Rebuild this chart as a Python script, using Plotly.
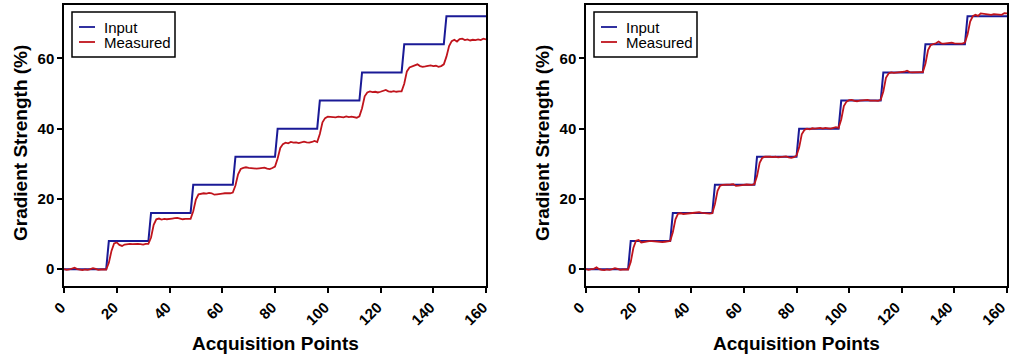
import plotly.graph_objects as go

# ---- data ----
input_x = [0, 16, 17, 32, 33, 48, 49, 64, 65, 80, 81, 96, 97, 112, 113, 128, 129, 144, 145, 160]
input_y = [0, 0, 8, 8, 16, 16, 24, 24, 32, 32, 40, 40, 48, 48, 56, 56, 64, 64, 72, 72]

meas_x = list(range(0, 161))

meas_left = [
    0.0, -0.2, -0.1, 0.1, 0.4, 0.0, -0.2, -0.3, -0.1, -0.2, 0.0, 0.3, 0.1, -0.2, -0.1, -0.2, -0.1,
    1.8, 5.2, 7.3, 7.6, 6.9, 6.6, 7.0, 7.2, 7.2, 7.1, 7.2, 7.2, 7.1, 7.0, 7.2, 7.2,
    9.0, 12.6, 14.2, 14.4, 14.1, 14.3, 14.2, 14.4, 14.4, 14.5, 14.6, 14.4, 14.2, 14.3, 14.2, 14.3,
    16.5, 19.8, 21.3, 21.5, 21.6, 21.5, 21.7, 21.6, 21.2, 21.3, 21.5, 21.5, 21.6, 21.5, 21.6, 21.8,
    23.8, 27.0, 28.5, 28.8, 29.0, 28.8, 28.7, 28.8, 28.6, 28.7, 28.8, 28.9, 28.6, 28.5, 28.8, 29.2,
    31.5, 34.5, 35.6, 36.0, 35.8, 36.2, 36.0, 36.1, 35.9, 36.0, 36.3, 36.1, 36.0, 36.2, 36.5, 36.2,
    38.5, 41.8, 43.0, 43.4, 43.3, 43.1, 43.2, 43.4, 43.3, 43.2, 43.5, 43.3, 43.4, 43.2, 43.1, 43.5,
    45.8, 49.2, 50.3, 50.6, 50.4, 50.5, 50.3, 50.5, 50.7, 51.0, 50.6, 50.5, 50.7, 50.5, 50.6, 50.6,
    52.8, 56.3, 57.4, 57.7, 57.9, 58.3, 57.8, 57.6, 57.7, 57.9, 58.0, 57.8, 57.9, 57.6, 57.8, 58.3,
    60.5, 63.5, 64.9, 65.3, 64.8, 65.5, 65.6, 65.2, 65.4, 65.1, 65.3, 65.2, 65.4, 65.2, 65.6, 65.4,
]

meas_right = [
    0.0, -0.2, 0.0, 0.1, 0.5, 0.0, -0.2, -0.3, -0.1, -0.2, 0.0, 0.3, 0.1, -0.2, -0.1, -0.2, -0.1,
    2.0, 6.0, 8.1, 8.3, 7.6, 7.8, 8.0, 8.0, 8.0, 7.9, 7.9, 7.8, 7.7, 7.8, 7.9, 8.0,
    10.5, 14.2, 15.8, 15.9, 15.7, 15.8, 15.8, 16.0, 15.9, 16.1, 16.2, 16.0, 15.9, 16.0, 15.8, 15.9,
    18.5, 22.3, 23.8, 24.0, 24.0, 23.9, 24.1, 24.2, 23.7, 23.8, 24.0, 24.0, 24.1, 24.0, 24.0, 24.2,
    26.5, 30.3, 31.7, 32.0, 32.1, 32.0, 31.9, 32.0, 31.8, 31.9, 32.0, 32.1, 31.8, 31.7, 31.9, 32.3,
    34.6, 38.4, 39.6, 40.0, 39.8, 40.1, 40.0, 40.1, 40.2, 40.0, 40.2, 40.1, 40.0, 40.2, 40.4, 40.2,
    42.6, 46.4, 47.7, 48.1, 48.2, 47.9, 47.8, 48.0, 48.1, 48.0, 48.2, 48.0, 48.1, 48.0, 47.9, 48.2,
    50.6, 54.5, 55.7, 56.0, 55.9, 56.0, 55.9, 56.1, 56.2, 56.5, 56.1, 56.0, 56.1, 56.0, 56.1, 56.1,
    58.5, 62.4, 63.8, 64.1, 64.3, 64.8, 64.3, 64.2, 64.3, 64.4, 64.5, 64.3, 64.2, 64.1, 64.2, 64.5,
    66.8, 70.5, 72.0, 72.4, 72.1, 72.8, 72.7, 72.5, 72.6, 72.4, 72.6, 72.5, 72.6, 72.4, 72.9, 72.8,
]

x_ticks = [0, 20, 40, 60, 80, 100, 120, 140, 160]
y_ticks = [0, 20, 40, 60]
series_names = ["Input", "Measured"]

BLUE = "#1a1a96"
RED = "#c0141c"
FONT = "Liberation Sans, Arial, sans-serif"

fig = go.Figure()

fig.add_trace(go.Scatter(x=input_x, y=input_y, mode="lines", name=series_names[0],
                         line=dict(color=BLUE, width=2), xaxis="x", yaxis="y"))
fig.add_trace(go.Scatter(x=meas_x, y=meas_left, mode="lines", name=series_names[1],
                         line=dict(color=RED, width=1.8), xaxis="x", yaxis="y"))
fig.add_trace(go.Scatter(x=input_x, y=input_y, mode="lines", name=series_names[0],
                         line=dict(color=BLUE, width=2), xaxis="x2", yaxis="y2"))
fig.add_trace(go.Scatter(x=meas_x, y=meas_right, mode="lines", name=series_names[1],
                         line=dict(color=RED, width=1.8), xaxis="x2", yaxis="y2"))

W, H = 1009, 358
left_dom = [64 / W, 486 / W]
right_dom = [586 / W, 1007 / W]
y_dom = [1 - 286 / H, 1 - 5 / H]

common_x = dict(range=[0, 160], tickvals=x_ticks, tickangle=-45, showline=True, mirror=True,
                linecolor="black", linewidth=1.5, ticks="outside", ticklen=5, tickwidth=1.5,
                tickcolor="black", showgrid=False, zeroline=False, automargin=False,
                ticklabeloverflow="allow",
                tickfont=dict(family=FONT, size=15, color="black", weight="bold"))
common_y = dict(range=[-4.8, 75.2], tickvals=y_ticks, showline=True, mirror=True,
                linecolor="black", linewidth=1.5, ticks="outside", ticklen=5, tickwidth=1.5,
                tickcolor="black", showgrid=False, zeroline=False, automargin=False,
                ticklabeloverflow="allow",
                tickfont=dict(family=FONT, size=15, color="black", weight="bold"))

fig.update_layout(
    width=W, height=H,
    margin=dict(l=0, r=0, t=0, b=0),
    paper_bgcolor="white", plot_bgcolor="white",
    showlegend=False,
    xaxis=dict(domain=left_dom, anchor="y", ticklabelshift=-3, **common_x),
    yaxis=dict(domain=y_dom, anchor="x", **common_y),
    xaxis2=dict(domain=right_dom, anchor="y2", ticklabelshift=-6, **common_x),
    yaxis2=dict(domain=y_dom, anchor="x2", **common_y),
    font=dict(family=FONT, color="black"),
)

def px(x):
    return x / W

def py(y):
    return 1 - y / H

# legend boxes (drawn manually for compact layout)
for off in [0, 522]:
    fig.add_shape(type="rect", xref="paper", yref="paper",
                  x0=px(72 + off), x1=px(175 + off), y0=py(57), y1=py(12),
                  line=dict(color="black", width=1.5), fillcolor="white", layer="above")
    for name, col, yy in [(series_names[0], BLUE, 27), (series_names[1], RED, 42)]:
        fig.add_shape(type="line", xref="paper", yref="paper",
                      x0=px(79 + off), x1=px(95 + off), y0=py(yy), y1=py(yy),
                      line=dict(color=col, width=1.8), layer="above")
        fig.add_annotation(text=name, x=px(102 + off), y=py(yy), xref="paper", yref="paper",
                           showarrow=False, xanchor="left", yanchor="middle",
                           font=dict(family=FONT, size=15, color="black"))

title_font = dict(family=FONT, size=19, color="black", weight="bold")
for cx in [(left_dom[0] + left_dom[1]) / 2, (right_dom[0] + right_dom[1]) / 2]:
    fig.add_annotation(text="Acquisition Points", x=cx, y=py(343), xref="paper", yref="paper",
                       showarrow=False, font=title_font, xanchor="center", yanchor="middle")
for ax_x in [20, 542]:
    fig.add_annotation(text="Gradient Strength (%)", x=px(ax_x), y=py(143), xref="paper", yref="paper",
                       showarrow=False, font=title_font, textangle=-90, xanchor="center", yanchor="middle")

fig.write_html("out.html", config={"displayModeBar": False},
               post_script="document.body.style.margin='0';document.body.style.overflow='hidden';")
